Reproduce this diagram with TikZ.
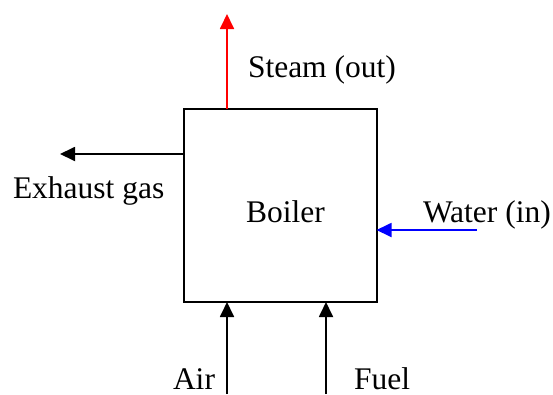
\documentclass[tikz,border=0pt]{standalone}
\usepackage{fontspec}
\setmainfont{Liberation Serif}
\usetikzlibrary{arrows.meta}
\begin{document}
\begin{tikzpicture}[x=1pt,y=-1pt,
  lbl/.style={anchor=base west,inner sep=0pt,outer sep=0pt,font=\fontsize{31.5}{36}\selectfont},
  flow/.style={line width=1.8pt,-{Triangle[length=15pt,width=14pt]}},
  boxstyle/.style={draw,line width=2pt,rectangle,inner sep=0pt,outer sep=0pt,minimum width=192.5pt,minimum height=193pt}]
\useasboundingbox (0,0) rectangle (553,394);
\node[boxstyle] (box) at (280.25,205.5) {};
\node[lbl] (lboiler) at (246,222) {Boiler};
\node[lbl] (lsteam) at (248,77) {Steam (out)};
\node[lbl] (lexh) at (13,198) {Exhaust gas};
\node[lbl] (lwater) at (423,222) {Water (in)};
\node[lbl] (lair) at (173,389) {Air};
\node[lbl] (lfuel) at (354,389) {Fuel};
\coordinate (steamtip) at (227,14);
\coordinate (exhtip) at (60,154);
\coordinate (wstart) at (477,230);
\coordinate (airstart) at (227,394);
\coordinate (fuelstart) at (326,394);
\draw[flow,color={rgb,255:red,255;green,0;blue,0}] (box.north -| steamtip) -- (steamtip);
\draw[flow] (box.west |- exhtip) -- (exhtip);
\draw[flow,color={rgb,255:red,0;green,0;blue,255}] (wstart) -- (box.east |- wstart);
\draw[flow] (airstart) -- (box.south -| airstart);
\draw[flow] (fuelstart) -- (box.south -| fuelstart);
\end{tikzpicture}
\end{document}
